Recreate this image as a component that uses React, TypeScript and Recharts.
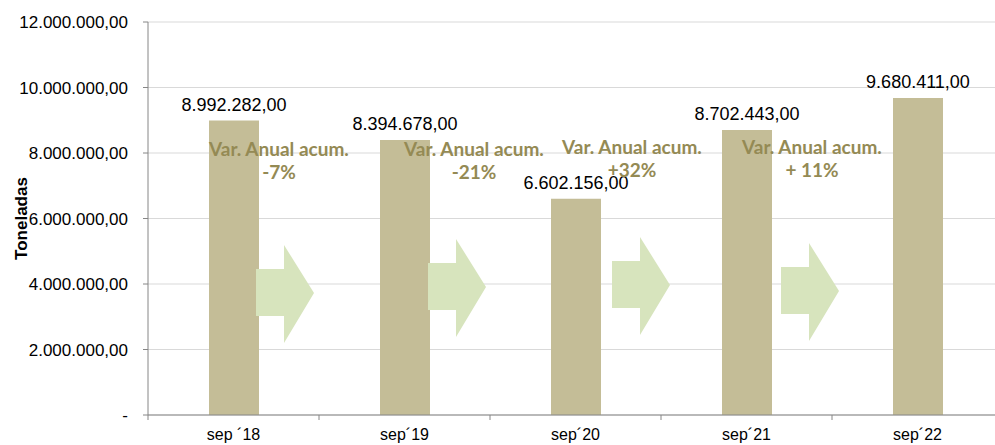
import { Bar, BarChart, CartesianGrid, LabelList, XAxis, YAxis } from "recharts";

const periods = ["sep ´18", "sep´19", "sep´20", "sep´21", "sep´22"];
const tonnes = [8992282, 8394678, 6602156, 8702443, 9680411];
const yTicks = [0, 2000000, 4000000, 6000000, 8000000, 10000000, 12000000];
// variation shown between bar i and bar i+1
const variations = ["-7%", "-21%", "+32%", "+ 11%"];

// annotation placement, relative to the bar centre
const noteLayout = [
  { textDx: 45, textY: 156, arrowDx: 22, arrowTop: 245 },
  { textDx: 69, textY: 156, arrowDx: 23, arrowTop: 239 },
  { textDx: 56, textY: 154, arrowDx: 36, arrowTop: 237 },
  { textDx: 65, textY: 154, arrowDx: 34, arrowTop: 243 },
];

const data = periods.map((p, i) => ({ period: p, value: tonnes[i] }));

const CHART_W = 1003;
const Y_AXIS_W = 148;
const BAND = (CHART_W - Y_AXIS_W) / periods.length;

function fmt(v: number) {
  if (v === 0) return "-";
  const s = Math.round(v).toString().replace(/\B(?=(\d{3})+(?!\d))/g, ".");
  return s + ",00";
}

const font = "'Liberation Sans', Arial, sans-serif";

function XTick(props: any) {
  const { x, y, payload } = props;
  const left = x - BAND / 2;
  return (
    <g>
      <line x1={left} x2={left} y1={y - 14} y2={y - 9} stroke="#868686" />
      <text x={x} y={y} dy="0.71em" textAnchor="middle" fontSize={16} fontFamily={font} fill="#000">
        {payload.value}
      </text>
    </g>
  );
}

function Note(props: any) {
  const { x, width, index } = props;
  if (index >= variations.length) return null;
  const cx = x + width / 2;
  const l = noteLayout[index];
  const ax = cx + l.arrowDx;
  const at = l.arrowTop;
  const pts = [
    [ax, at + 24],
    [ax + 28, at + 24],
    [ax + 28, at],
    [ax + 58, at + 48],
    [ax + 28, at + 98],
    [ax + 28, at + 71],
    [ax, at + 71],
  ]
    .map((p) => p.join(","))
    .join(" ");
  const tx = cx + l.textDx;
  return (
    <g>
      <polygon points={pts} fill="#d7e4bd" />
      <text x={tx} y={l.textY} textAnchor="middle" fontSize={19} fontWeight="bold" fontFamily="Lato, sans-serif" fill="#948a54">
        Var. Anual acum.
      </text>
      <text x={tx} y={l.textY + 23} textAnchor="middle" fontSize={19} fontWeight="bold" fontFamily="Lato, sans-serif" fill="#948a54">
        {variations[index]}
      </text>
    </g>
  );
}

export default function App() {
  return (
    <div style={{ position: "absolute", left: 0, top: 0, width: 995, height: 445, overflow: "hidden", background: "#fff" }}>
      <BarChart
        width={CHART_W}
        height={445}
        data={data}
        margin={{ top: 22, right: 0, bottom: 0, left: 0 }}
        barCategoryGap={0}
      >
        <CartesianGrid vertical={false} stroke="#d9d9d9" />
        <XAxis
          dataKey="period"
          height={30}
          axisLine={{ stroke: "#868686" }}
          tickLine={false}
          tickSize={5}
          tickMargin={9}
          tick={<XTick />}
          interval={0}
        />
        <YAxis
          width={Y_AXIS_W}
          domain={[0, 12000000]}
          ticks={yTicks}
          tickFormatter={fmt}
          axisLine={{ stroke: "#868686" }}
          tickLine={{ stroke: "#868686" }}
          tickSize={5}
          tickMargin={15}
          tick={{ fontSize: 17, fontFamily: font, fill: "#000" }}
          label={{
            value: "Toneladas",
            angle: -90,
            position: "insideLeft",
            dx: 16,
            fontSize: 17,
            fontWeight: "bold",
            fill: "#000",
            style: { fontSize: 17, fontWeight: "bold", fontFamily: font, fill: "#000", textAnchor: "middle" },
          }}
        />
        <Bar dataKey="value" fill="#c4bd97" barSize={50} isAnimationActive={false}>
          <LabelList
            dataKey="value"
            position="top"
            offset={10}
            formatter={(v: any) => fmt(Number(v))}
            style={{ fontSize: 18, fontFamily: font, fill: "#000" }}
          />
          <LabelList dataKey="value" content={<Note />} />
        </Bar>
      </BarChart>
    </div>
  );
}
